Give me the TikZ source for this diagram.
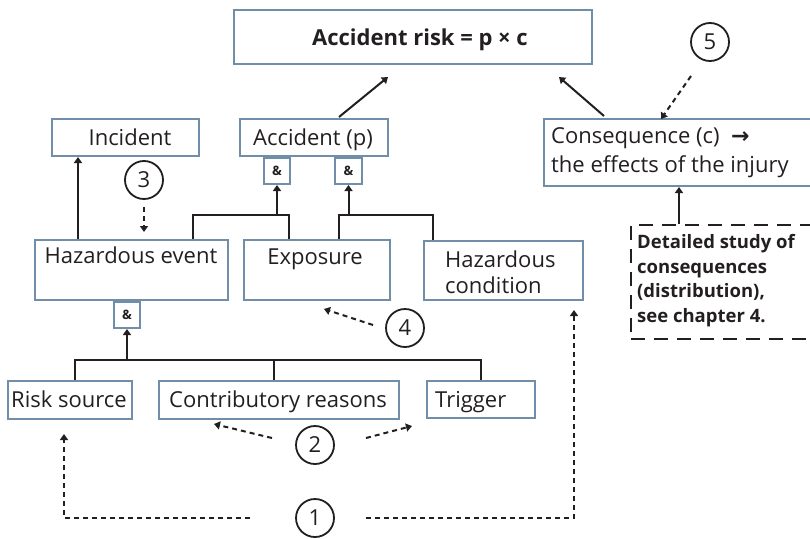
\documentclass[tikz,border=0pt]{standalone}
\usepackage{fontspec}
\setmainfont{Open Sans}
\newfontfamily\symfont{DejaVu Sans}
\usetikzlibrary{arrows.meta}
\definecolor{boxline}{RGB}{112,142,168}
\definecolor{ink}{RGB}{35,31,32}
\begin{document}
\begin{tikzpicture}[x=1pt,y=-1pt,
  box/.style={draw=boxline, line width=2pt, inner sep=0pt, anchor=north west},
  andbox/.style={box, text=ink, minimum width=26pt, minimum height=26pt,
    font=\fontsize{13}{15}\selectfont\bfseries},
  txt/.style={text=ink, inner sep=0pt, anchor=base, font=\fontsize{22}{26}\selectfont},
  ltxt/.style={txt, anchor=base west},
  btxt/.style={ltxt, font=\fontsize{18.5}{22}\selectfont\bfseries},
  num/.style={draw=ink, line width=1.8pt, circle, minimum size=38pt, inner sep=0pt,
    text=ink, font=\fontsize{22}{26}\selectfont},
  link/.style={draw=ink, line width=2pt},
  arr/.style={link, -{Triangle[length=6pt,width=8pt]}},
  darr/.style={arr, dash pattern=on 5pt off 4pt},
]
\useasboundingbox (0,0) rectangle (810,538);

% boxes (the two on the right run on past the right margin)
\node[box, minimum width=358pt, minimum height=54pt] (risk) at (233,9) {};
\node[box, minimum width=147pt, minimum height=37pt] (inc) at (51,118) {};
\node[box, minimum width=148pt, minimum height=37pt] (accp) at (239,118) {};
\node[andbox] (amp1) at (263,157) {\&};
\node[andbox, minimum width=27pt] (amp2) at (334,157) {\&};
\node[box, minimum width=193pt, minimum height=60pt] (hev) at (34,239) {};
\node[box, minimum width=146pt, minimum height=60pt] (exp) at (243,239) {};
\node[box, minimum width=159pt, minimum height=59pt] (hcond) at (423,240) {};
\node[andbox] (amp3) at (113,301) {\&};
\node[box, minimum width=124pt, minimum height=38pt] (rs) at (7,380) {};
\node[box, minimum width=240pt, minimum height=38pt] (cr) at (158,380) {};
\node[box, minimum width=108pt, minimum height=37pt] (trig) at (426,380) {};
\node[box, minimum width=290pt, minimum height=67pt] (cons) at (543,118) {};
\node[box, draw=ink, dash pattern=on 14pt off 9pt, minimum width=230pt, minimum height=114pt] (detail) at (630,224) {};

% texts
\node[txt, font=\fontsize{22}{26}\selectfont\bfseries] (risk-t) at (420,45) {Accident risk = p × c};
\node[txt] (inc-t) at (130,145) {Incident};
\node[txt] (accp-t) at (313,145) {Accident (p)};
\node[txt] (hev-t) at (131,263) {Hazardous event};
\node[txt] (exp-t) at (315,264) {Exposure};
\node[ltxt] (hcond-t1) at (445,267) {Hazardous};
\node[ltxt] (hcond-t2) at (445,293) {condition};
\node[txt] (rs-t) at (69,407) {Risk source};
\node[txt] (cr-t) at (278,407) {Contributory reasons};
\node[ltxt] (trig-t) at (435,407) {Trigger};
\node[ltxt] (cons-t1) at (551,143) {Consequence (c) \ {\symfont\bfseries →}};
\node[ltxt] (cons-t2) at (551,172) {the effects of the injury};
\node[btxt] (detail-t1) at (637,248) {Detailed study of};
\node[btxt] (detail-t2) at (637,273) {consequences};
\node[btxt] (detail-t3) at (637,297) {(distribution),};
\node[btxt] (detail-t4) at (637,322) {see chapter 4.};

% numbered markers
\node[num] (c1) at (315,518) {1};
\node[num] (c2) at (315,445) {2};
\node[num] (c3) at (144,180) {3};
\node[num] (c4) at (405,328) {4};
\node[num] (c5) at (710,42) {5};

% tree connectors
\coordinate (bus3) at ([yshift=-31pt]amp3.south);
\draw[link] ([xshift=5pt]rs.north) |- (trig.north |- bus3) -- (trig.north);
\draw[link] ([xshift=-5pt]cr.north) -- ([xshift=-5pt]cr.north |- bus3);
\draw[arr] (bus3) -- (amp3.south);

\coordinate (bus1) at ([yshift=-30pt]amp1.south);
\draw[link] ([xshift=-36pt]hev.north east) |- ([xshift=46pt]exp.north west |- bus1) -- ([xshift=46pt]exp.north west);
\draw[arr] (bus1) -- (amp1.south);

\coordinate (bus2) at ([yshift=-30pt]amp2.south);
\draw[link] ([xshift=96pt]exp.north west) |- ([xshift=10pt]hcond.north west |- bus2) -- ([xshift=10pt]hcond.north west);
\draw[arr] (bus2) -- (amp2.south);

\draw[arr] ([xshift=44pt]hev.north west) -- ([xshift=44pt]hev.north west |- inc.south);
\draw[arr] ([xshift=25pt,yshift=1pt]accp.north) -- ([xshift=-25pt,yshift=-12pt]risk.south);
\draw[arr] ([xshift=61pt,yshift=2pt]cons.north west) -- ([xshift=-34pt,yshift=-12pt]risk.south east);
\draw[arr] ([xshift=49pt]detail.north west) -- ([xshift=49pt]detail.north west |- cons.south);

% dotted pointers from the markers
\draw[darr] ([xshift=-19pt,yshift=-34pt]c5.center) -- ([xshift=118pt,yshift=-1pt]cons.north west);
\draw[darr] ([yshift=-27pt]c3.center) -- ([yshift=7pt]c3.center |- hev.north);
\draw[darr] ([xshift=-32pt,yshift=3pt]c4.center) -- ([xshift=7pt,yshift=-8pt]exp.south);
\draw[darr] ([xshift=-43pt,yshift=7pt]c2.center) -- ([xshift=-65pt,yshift=-4pt]cr.south);
\draw[darr] ([xshift=51pt,yshift=7pt]c2.center) -- ([xshift=-14pt,yshift=-7pt]trig.south west);
\draw[darr] ([xshift=-65pt]c1.center) -| ([xshift=-6pt,yshift=-14pt]rs.south);
\draw[darr] ([xshift=51pt]c1.center) -| ([xshift=-10pt,yshift=-9pt]hcond.south east);
\end{tikzpicture}
\end{document}
